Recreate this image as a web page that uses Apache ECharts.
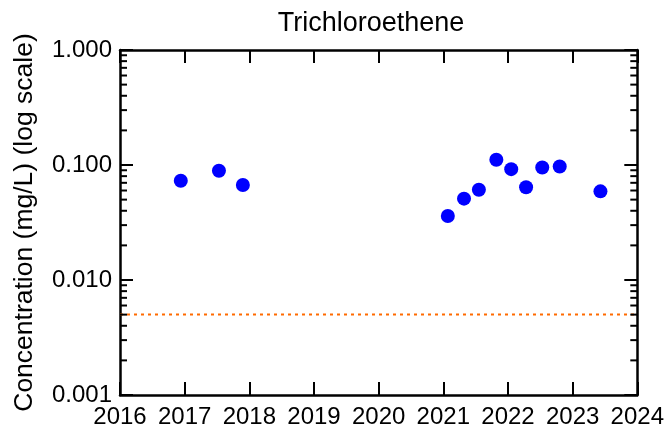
<!DOCTYPE html>
<html>
<head>
<meta charset="utf-8">
<script src="https://cdn.jsdelivr.net/npm/echarts@6/dist/echarts.min.js"></script>
<style>
html,body{margin:0;padding:0;background:#fff;}
#chart{width:667px;height:431px;}
</style>
</head>
<body>
<div id="chart"></div>
<script>
// Data
var sampleYears = [2016.94, 2017.53, 2017.90, 2021.07, 2021.32, 2021.55, 2021.82, 2022.05, 2022.28, 2022.53, 2022.80, 2023.43];
var concentrations = [0.073, 0.089, 0.067, 0.036, 0.051, 0.061, 0.111, 0.092, 0.064, 0.095, 0.097, 0.059];
var screeningLevel = 0.005;
var xMin = 2016, xMax = 2024;
var yMin = 0.001, yMax = 1;
var titleText = 'Trichloroethene';
var yAxisTitle = 'Concentration (mg/L) (log scale)';

var FONT = '"Liberation Sans", Arial, sans-serif';
var chart = echarts.init(document.getElementById('chart'), null, {renderer: 'canvas'});

var pts = sampleYears.map(function (x, i) { return [x, concentrations[i]]; });
var levelLine = [[xMin, screeningLevel], [xMax, screeningLevel]];

var axisLine = {show: true, onZero: false, lineStyle: {color: '#000', width: 2.5}};
var majorTick = {show: true, inside: true, length: 13, lineStyle: {color: '#000', width: 2}};

var option = {
  animation: false,
  backgroundColor: '#fff',
  title: {
    text: titleText, left: 366, top: 5, textAlign: 'center',
    textStyle: {fontFamily: FONT, fontSize: 27, fontWeight: 'normal', color: '#000'}
  },
  grid: {left: 120, right: 29, top: 50, bottom: 36},
  xAxis: [{
    type: 'value', min: xMin, max: xMax, interval: 1, position: 'bottom',
    axisLine: axisLine, axisTick: majorTick, splitLine: {show: false},
    axisLabel: {show: true, margin: 10, fontFamily: FONT, fontSize: 24, color: '#000',
      formatter: function (v) { return String(Math.round(v)); }}
  }, {
    type: 'value', min: xMin, max: xMax, interval: 1, position: 'top',
    axisLine: axisLine, axisTick: majorTick, splitLine: {show: false}, axisLabel: {show: false}
  }],
  yAxis: [{
    type: 'log', logBase: 10, min: yMin, max: yMax, position: 'left',
    name: yAxisTitle, nameLocation: 'middle', nameGap: 82, nameRotate: 90,
    nameTextStyle: {fontFamily: FONT, fontSize: 26.5, color: '#000'},
    axisLine: axisLine, axisTick: majorTick, splitLine: {show: false},
    axisLabel: {show: true, margin: 8, fontFamily: FONT, fontSize: 24, color: '#000',
      formatter: function (v) { return Number(v).toFixed(3); }}
  }, {
    type: 'log', logBase: 10, min: yMin, max: yMax, position: 'right',
    axisLine: axisLine, axisTick: majorTick, splitLine: {show: false}, axisLabel: {show: false}
  }],
  series: [{
    type: 'line', xAxisIndex: 0, yAxisIndex: 0,
    data: levelLine, symbol: 'none', silent: true,
    lineStyle: {color: '#ff6a00', width: 2, type: [3, 4]},
    z: 2
  }, {
    type: 'scatter', xAxisIndex: 0, yAxisIndex: 0,
    data: pts, symbol: 'circle', symbolSize: 14,
    itemStyle: {color: '#0000ff', opacity: 1},
    z: 3
  }]
};
chart.setOption(option);

// Minor log ticks (2..9 x 10^k) placed through the axis scale
var minorLines = [];
var xl = chart.convertToPixel({xAxisIndex: 0}, xMin);
var xr = chart.convertToPixel({xAxisIndex: 0}, xMax);
for (var k = -3; k < 0; k++) {
  for (var m = 2; m <= 9; m++) {
    var v = m * Math.pow(10, k);
    var py = chart.convertToPixel({yAxisIndex: 0}, v);
    minorLines.push({type: 'line', shape: {x1: xl, y1: py, x2: xl + 7, y2: py},
      style: {stroke: '#000', lineWidth: 2}, z: 10, silent: true});
    minorLines.push({type: 'line', shape: {x1: xr - 7, y1: py, x2: xr, y2: py},
      style: {stroke: '#000', lineWidth: 2}, z: 10, silent: true});
  }
}
chart.setOption({graphic: minorLines});
</script>
</body>
</html>
